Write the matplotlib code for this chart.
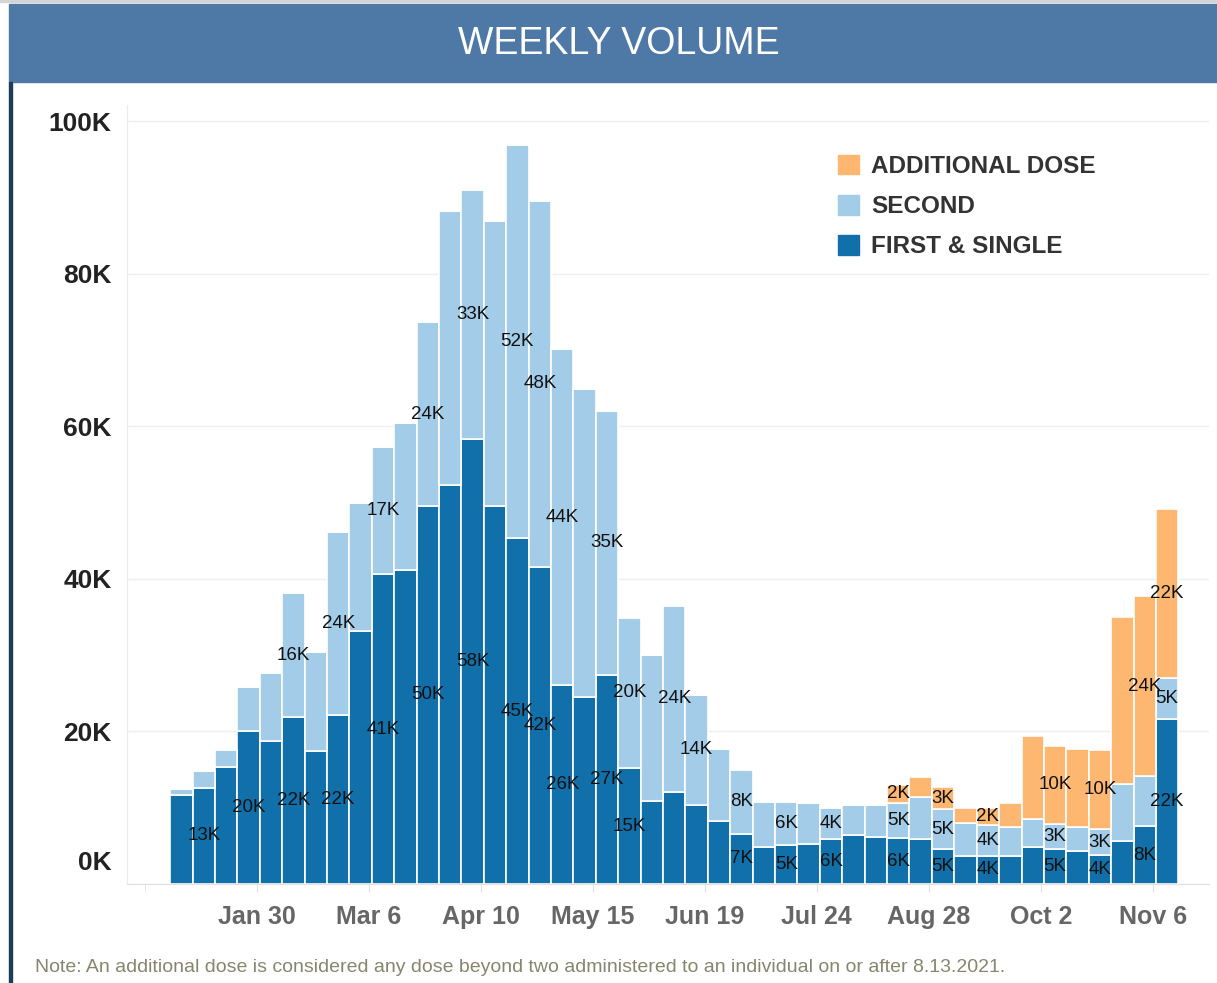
import matplotlib
matplotlib.use("Agg")
import matplotlib.pyplot as plt
import matplotlib.transforms as mtransforms
from matplotlib.patches import Rectangle
import numpy as np
import pandas as pd

# === DATE (mii de doze / saptamana) ===
WEEK_START = pd.date_range("2021-01-03", periods=45, freq="7D")

FIRST = [11.7, 12.6, 15.3, 20.0, 18.7, 21.9, 17.4, 22.2, 33.2, 40.6,
         41.1, 49.6, 52.3, 58.3, 49.5, 45.3, 41.6, 26.1, 24.5, 27.4,
         15.2, 10.9, 12.1, 10.4, 8.2, 6.6, 4.8, 5.1, 5.3, 5.9,
         6.4, 6.1, 6.0, 5.9, 4.6, 3.7, 3.7, 3.7, 4.8, 4.6,
         4.3, 3.8, 5.7, 7.6, 21.6]
SECOND = [0.7, 2.2, 2.3, 5.8, 8.9, 16.2, 13.0, 24.0, 16.7, 16.7,
          19.3, 24.0, 35.9, 32.7, 37.4, 51.6, 47.9, 44.0, 40.4, 34.6,
          19.7, 19.1, 24.4, 14.4, 9.5, 8.4, 6.0, 5.7, 5.3, 4.1,
          3.9, 4.2, 4.6, 5.5, 5.2, 4.3, 4.0, 3.8, 3.7, 3.3,
          3.2, 3.4, 7.4, 6.5, 5.4]
ADDITIONAL = [0] * 32 + [2.4, 2.6, 2.9, 2.0, 2.3, 3.1, 10.9, 10.2,
                         10.2, 10.4, 21.9, 23.7, 22.1]

# barele care au eticheta afisata (ca in Tableau)
FIRST_LABELED = [1, 3, 5, 7, 9, 11, 13, 15, 16, 17, 19, 20, 25, 27, 29,
                 32, 34, 36, 39, 41, 43, 44]
SECOND_LABELED = [5, 7, 9, 11, 13, 15, 16, 17, 19, 20, 22, 23, 25, 27, 29,
                  32, 34, 36, 39, 41, 44]
ADDITIONAL_LABELED = [32, 34, 36, 39, 41, 43, 44]

TICK_DATES = ["2021-01-30", "2021-03-06", "2021-04-10", "2021-05-15",
              "2021-06-19", "2021-07-24", "2021-08-28", "2021-10-02",
              "2021-11-06"]
TICK_LABELS = ["Jan 30", "Mar 6", "Apr 10", "May 15", "Jun 19", "Jul 24",
               "Aug 28", "Oct 2", "Nov 6"]
Y_TICKS = [0, 20000, 40000, 60000, 80000, 100000]
Y_LABELS = ["0K", "20K", "40K", "60K", "80K", "100K"]

C_FIRST = "#1170aa"
C_SECOND = "#a3cce9"
C_ADD = "#fdb771"
FONT = ["Liberation Sans", "DejaVu Sans"]


def fmt_k(v):
    return f"{int(v + 0.5)}K"


def main():
    first = np.array(FIRST) * 1000
    second = np.array(SECOND) * 1000
    additional = np.array(ADDITIONAL) * 1000
    centers = WEEK_START + pd.Timedelta(hours=84)

    fig = plt.figure(figsize=(12.17, 9.83), dpi=100)
    W, H = 1217, 983

    # banda de titlu + chenar
    fig.patches.append(Rectangle((0, 1 - 2 / H), 1, 2 / H, transform=fig.transFigure,
                                 color="#d4d4d4", zorder=0))
    fig.patches.append(Rectangle((9 / W, 1 - 82 / H), 1, 78 / H, transform=fig.transFigure,
                                 color="#4e79a7", zorder=0))
    fig.patches.append(Rectangle((9 / W, 0), 2.5 / W, 1 - 82 / H, transform=fig.transFigure,
                                 color="#1d3c5a", zorder=0))
    fig.text(619 / W, 1 - 44 / H, "WEEKLY VOLUME", color="white", fontsize=27,
             family=FONT, ha="center", va="center")

    ax = fig.add_axes([127 / W, 99 / H, (1209 - 127) / W, (884 - 105) / H])

    bar_kw = dict(width=7, edgecolor="white", linewidth=1.2, zorder=3)
    ax.bar(centers, first, color=C_FIRST, **bar_kw)
    ax.bar(centers, second, bottom=first, color=C_SECOND, **bar_kw)
    ax.bar(centers, additional, bottom=first + second, color=C_ADD, **bar_kw)

    txt_kw = dict(ha="center", va="center", fontsize=13.5, family=FONT,
                  color="#111111", zorder=5)
    for i in FIRST_LABELED:
        ax.text(centers[i], first[i] / 2, fmt_k(first[i] / 1000), **txt_kw)
    for i in SECOND_LABELED:
        ax.text(centers[i], first[i] + second[i] / 2, fmt_k(second[i] / 1000), **txt_kw)
    for i in ADDITIONAL_LABELED:
        ax.text(centers[i], first[i] + second[i] + additional[i] / 2,
                fmt_k(additional[i] / 1000), **txt_kw)

    ax.set_xlim(pd.Timestamp("2020-12-20 12:00"), pd.Timestamp("2021-11-23 14:00"))
    ax.set_ylim(0, 102100)

    ax.set_xticks(pd.to_datetime(TICK_DATES))
    ax.set_xticklabels(TICK_LABELS)
    ax.set_xticks([pd.Timestamp("2020-12-26")], minor=True)
    ax.tick_params(axis="x", which="both", length=6, color="#e0e0e0", pad=9,
                   labelsize=18, labelcolor="#666666")
    for lab in ax.get_xticklabels():
        lab.set_family(FONT)
        lab.set_weight("bold")

    ax.set_yticks(Y_TICKS)
    ax.set_yticklabels(Y_LABELS)
    ax.tick_params(axis="y", length=0, pad=11, labelsize=19, labelcolor="#222222")
    for lab in ax.get_yticklabels():
        lab.set_family(FONT)
        lab.set_weight("bold")
    # eticheta 0K e ridicata deasupra axei
    zero = ax.get_yticklabels()[0]
    zero.set_transform(zero.get_transform() +
                       mtransforms.ScaledTranslation(0, 24 / 100, fig.dpi_scale_trans))

    ax.grid(axis="y", color="#efefef", linewidth=1, zorder=0)
    for side in ["top", "right"]:
        ax.spines[side].set_visible(False)
    ax.spines["left"].set_color("#ececec")
    ax.spines["bottom"].set_color("#e0e0e0")

    handles = [Rectangle((0, 0), 1, 1, color=c) for c in (C_ADD, C_SECOND, C_FIRST)]
    leg = fig.legend(handles, ["ADDITIONAL DOSE", "SECOND", "FIRST & SINGLE"],
                     loc="upper left", bbox_to_anchor=(838 / W, 1 - 155 / H),
                     frameon=False, borderpad=0, borderaxespad=0,
                     handlelength=0.85, handleheight=0.85, handletextpad=0.5,
                     labelspacing=0.7, prop=dict(family=FONT, size=17.5, weight="bold"))
    for t in leg.get_texts():
        t.set_color("#333333")

    fig.text(35 / W, 15 / H, "Note: An additional dose is considered any dose beyond two "
             "administered to an individual on or after 8.13.2021.",
             color="#86866e", fontsize=14, family=FONT, ha="left", va="center")

    fig.savefig("out.png", dpi=100)


if __name__ == "__main__":
    main()
